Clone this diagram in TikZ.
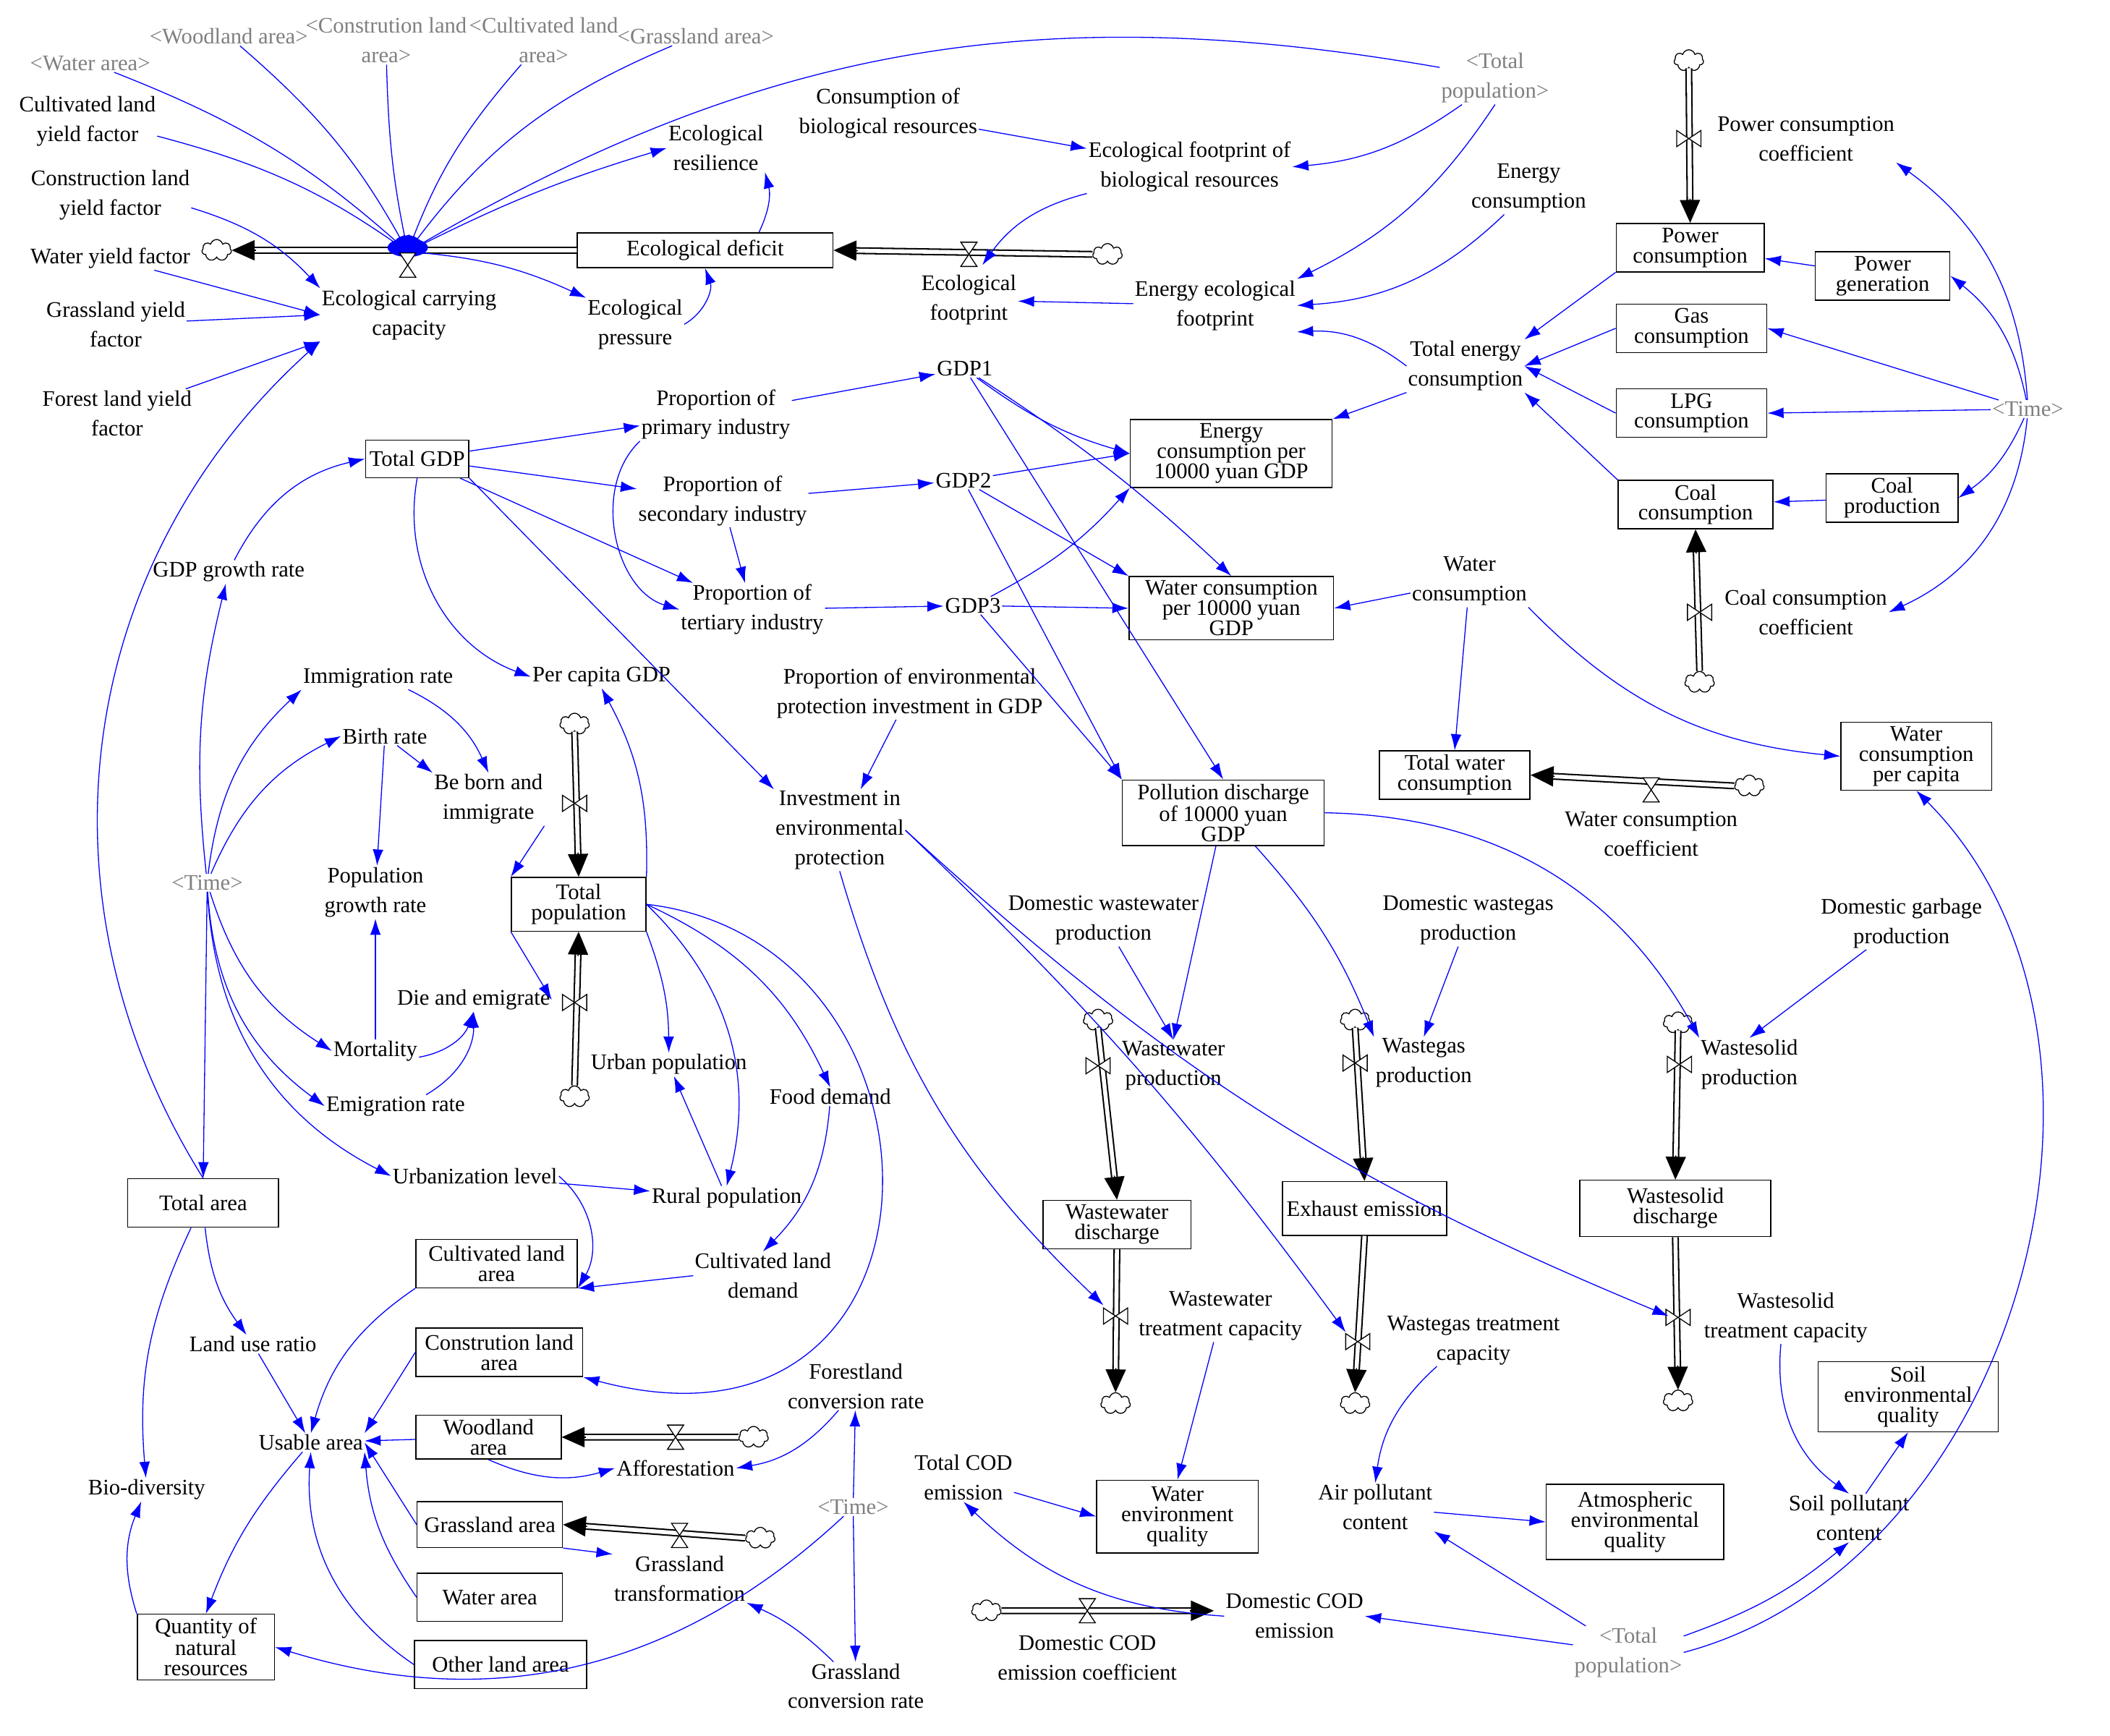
\documentclass[tikz,border=0pt]{standalone}
\usepackage{fontspec}
\setmainfont{Liberation Serif}
\usetikzlibrary{arrows.meta,shapes.symbols,calc}
\tikzset{
 v/.style={align=center, font=\fontsize{16.5}{22}\selectfont, inner sep=1pt},
 b/.style={v, draw, line width=0.8pt, inner sep=3pt, minimum height=36pt, font=\fontsize{16.5}{15}\selectfont},
 g/.style={v, text=black!50},
 ia/.style={blue, -{Latex[length=12pt,width=8pt]}, line width=0.7pt},
 cl/.style={cloud, draw, cloud puffs=7, minimum width=22pt, minimum height=16pt, inner sep=0pt, line width=0.7pt},
 pipe/.style={double=white, double distance=3pt, line width=1.1pt}
}
\newcommand\flow[2]{\draw[pipe] (#1) -- ($(#2)!16pt!(#1)$); \draw[line width=0.8pt,-{Triangle[length=17pt,width=15pt]}] ($(#2)!18pt!(#1)$) -- (#2);}
\newcommand\hv[2]{\draw[fill=white,line width=0.7pt] (#1-6,#2-9)--(#1+6,#2-9)--(#1-6,#2+9)--(#1+6,#2+9)--cycle;}
\newcommand\vv[2]{\draw[fill=white,line width=0.7pt] (#1-9,#2-6)--(#1-9,#2+6)--(#1+9,#2-6)--(#1+9,#2+6)--cycle;}
\begin{document}
\begin{tikzpicture}[x=1pt,y=-1pt]
\useasboundingbox (0,0) rectangle (1568,1290);
% ---- nodes
\node[g] (waterarea) at (67,47) {<Water area>};
\node[g] (woodarea) at (170,27) {<Woodland area>};
\node[g] (constarea) at (287,30) {<Constrution land\\area>};
\node[g] (cultarea) at (404,30) {<Cultivated land\\area>};
\node[g] (grassarea) at (517,27) {<Grassland area>};
\node[v] (cultyf) at (65,90) {Cultivated land\\yield factor};
\node[v] (constyf) at (82,145) {Construction land\\yield factor};
\node[v] (wateryf) at (82,192) {Water yield factor};
\node[v] (grassyf) at (86,241) {Grassland yield\\factor};
\node[v] (forestyf) at (87,307) {Forest land yield\\factor};
\node[v] (ecc) at (304,234) {Ecological carrying\\capacity};
\node[v] (ecres) at (532,110) {Ecological\\resilience};
\node[v] (ecpress) at (472,241) {Ecological\\pressure};
\node[b,minimum width=190pt,minimum height=26pt] (ecdef) at (524,186) {Ecological deficit};
\node[v] (cbr) at (660,84) {Consumption of\\biological resources};
\node[v] (efbr) at (884,124) {Ecological footprint of\\biological resources};
\node[g] (totpop1) at (1111,58) {<Total\\population>};
\node[v] (ecfp) at (720,223) {Ecological\\footprint};
\node[v] (energycons) at (1136,140) {Energy\\consumption};
\node[v] (eef) at (903,227) {Energy ecological\\footprint};
\node[v] (powercc) at (1342,103) {Power consumption\\coefficient};
\node[b,minimum width=110pt] (powercons) at (1256,184) {Power\\consumption};
\node[b,minimum width=100pt] (powergen) at (1399,205) {Power\\generation};
\node[b,minimum width=112pt] (gascons) at (1257,244) {Gas\\consumption};
\node[v] (totenergy) at (1089,272) {Total energy\\consumption};
\node[b,minimum width=112pt] (lpg) at (1257,307) {LPG\\consumption};
\node[g] (time1) at (1507,304) {<Time>};
\node[b,minimum width=115pt] (coalcons) at (1260,375) {Coal\\consumption};
\node[b,minimum width=98pt] (coalprod) at (1406,370) {Coal\\production};
\node[v] (coalcc) at (1342,455) {Coal consumption\\coefficient};
\node[v] (gdp1) at (717,274) {GDP1};
\node[v] (propprim) at (532,308) {Proportion of\\primary industry};
\node[b,minimum height=28pt] (totgdp) at (310,341) {Total GDP};
\node[v] (propsec) at (537,372) {Proportion of\\secondary industry};
\node[v] (gdp2) at (716,357) {GDP2};
\node[b,minimum width=150pt] (ecgdp) at (915,337) {Energy\\consumption per\\10000 yuan GDP};
\node[v] (proptert) at (559,453) {Proportion of\\tertiary industry};
\node[v] (gdp3) at (723,450) {GDP3};
\node[b,minimum width=152pt] (wcgdp) at (915,452) {Water consumption\\per 10000 yuan\\GDP};
\node[v] (watercons) at (1092,432) {Water\\consumption};
\node[v] (gdpgr) at (170,425) {GDP growth rate};
\node[v] (immig) at (281,504) {Immigration rate};
\node[v] (pcgdp) at (447,503) {Per capita GDP};
\node[v] (propenv) at (676,515) {Proportion of environmental\\protection investment in GDP};
\node[v] (birth) at (286,547) {Birth rate};
\node[v] (bornimm) at (363,594) {Be born and\\immigrate};
\node[v] (invenv) at (624,617) {Investment in\\environmental\\protection};
\node[b,minimum width=150pt] (pollgdp) at (909,604) {Pollution discharge\\of 10000 yuan\\GDP};
\node[b,minimum width=112pt] (totwater) at (1081,576) {Total water\\consumption};
\node[v] (wccoef) at (1227,620) {Water consumption\\coefficient};
\node[b,minimum width=112pt] (wcpc) at (1424,562) {Water\\consumption\\per capita};
\node[g] (time2) at (154,656) {<Time>};
\node[v] (popgr) at (279,663) {Population\\growth rate};
\node[b,minimum width=100pt,minimum height=40pt] (totpop) at (430,672) {Total\\population};
\node[v] (dwwp) at (820,684) {Domestic wastewater\\production};
\node[v] (dwgp) at (1091,684) {Domestic wastegas\\production};
\node[v] (dgp) at (1413,686) {Domestic garbage\\production};
\node[v] (dieemig) at (352,743) {Die and emigrate};
\node[v] (mortality) at (279,781) {Mortality};
\node[v] (urbpop) at (497,791) {Urban population};
\node[v] (wwprod) at (872,792) {Wastewater\\production};
\node[v] (wgprod) at (1058,790) {Wastegas\\production};
\node[v] (wsprod) at (1300,791) {Wastesolid\\production};
\node[v] (fooddem) at (617,815) {Food demand};
\node[v] (emigr) at (294,822) {Emigration rate};
\node[v] (urblvl) at (353,874) {Urbanization level};
\node[v] (ruralpop) at (540,890) {Rural population};
\node[b,minimum width=112pt] (totarea) at (151,894) {Total area};
\node[b,minimum width=110pt] (wwdis) at (830,910) {Wastewater\\discharge};
\node[b,minimum width=122pt,minimum height=40pt] (exhaust) at (1014,898) {Exhaust emission};
\node[b,minimum width=142pt,minimum height=42pt] (wsdis) at (1245,898) {Wastesolid\\discharge};
\node[b,minimum width=120pt] (cultlarea) at (369,939) {Cultivated land\\area};
\node[v] (cultdem) at (567,948) {Cultivated land\\demand};
\node[v] (wwtc) at (907,978) {Wastewater\\treatment capacity};
\node[v] (wgtc) at (1095,996) {Wastegas treatment\\capacity};
\node[v] (wstc) at (1327,979) {Wastesolid\\treatment capacity};
\node[v] (landuse) at (188,999) {Land use ratio};
\node[b,minimum width=124pt] (constlarea) at (371,1005) {Constrution land\\area};
\node[v] (forestconv) at (636,1030) {Forestland\\conversion rate};
\node[b,minimum width=134pt,minimum height=52pt] (soileq) at (1418,1038) {Soil\\environmental\\quality};
\node[v] (usable) at (231,1072) {Usable area};
\node[b,minimum width=108pt,minimum height=32pt] (woodland) at (363,1068) {Woodland\\area};
\node[v] (affor) at (502,1091) {Afforestation};
\node[v] (totcod) at (716,1098) {Total COD\\emission};
\node[v] (bio) at (109,1107) {Bio-diversity};
\node[v] (airpoll) at (1022,1120) {Air pollutant\\content};
\node[b,minimum width=120pt,minimum height=54pt] (watereq) at (875,1127) {Water\\environment\\quality};
\node[b,minimum width=132pt,minimum height=56pt] (atmoseq) at (1215,1131) {Atmospheric\\environmental\\quality};
\node[v] (soilpoll) at (1374,1128) {Soil pollutant\\content};
\node[g] (time3) at (634,1120) {<Time>};
\node[b,minimum width=108pt,minimum height=34pt] (grassland) at (364,1133) {Grassland area};
\node[v] (grasstrans) at (505,1173) {Grassland\\transformation};
\node[b,minimum width=108pt] (waterareabox) at (364,1187) {Water area};
\node[v] (domcod) at (962,1201) {Domestic COD\\emission};
\node[v] (domcodcoef) at (808,1232) {Domestic COD\\emission coefficient};
\node[g] (totpop2) at (1210,1228) {<Total\\population>};
\node[b,minimum width=102pt,minimum height=48pt] (qnr) at (153,1224) {Quantity of\\natural\\resources};
\node[b,minimum width=128pt] (otherland) at (372,1237) {Other land area};
\node[v] (grassconv) at (636,1253) {Grassland\\conversion rate};
% ---- clouds
\node[cl] (c1) at (161,186) {}; \node[cl] (c2) at (823,189) {};
\node[cl] (c3) at (1255,45) {}; \node[cl] (c4) at (1263,507) {};
\node[cl] (c5) at (1300,584) {}; \node[cl] (c6) at (427,538) {};
\node[cl] (c7) at (427,815) {}; \node[cl] (c8) at (816,758) {};
\node[cl] (c9) at (829,1043) {}; \node[cl] (c10) at (1007,758) {};
\node[cl] (c11) at (1007,1043) {}; \node[cl] (c12) at (1247,760) {};
\node[cl] (c13) at (1247,1041) {}; \node[cl] (c14) at (560,1068) {};
\node[cl] (c15) at (565,1143) {}; \node[cl] (c16) at (733,1197) {};
% ---- flows
\coordinate (eccv) at (303,187);
\flow{ecdef.west}{c1.east}
\flow{c2.west}{ecdef.east}
\flow{c3.south}{powercons.north}
\flow{c4.north}{coalcons.south}
\flow{c5.west}{totwater.east}
\flow{c6.south}{totpop.north}
\flow{c7.north}{totpop.south}
\flow{c8.south}{wwdis.north}
\flow{wwdis.south}{c9.north}
\flow{c10.south}{exhaust.north}
\flow{exhaust.south}{c11.north}
\flow{c12.south}{wsdis.north}
\flow{wsdis.south}{c13.north}
\flow{c14.west}{woodland.east}
\flow{c15.west}{grassland.east}
\coordinate (dce) at (902,1197);
\flow{c16.east}{dce}
\fill[blue] (303,184) ellipse (15pt and 7pt);
\hv{303}{197} \hv{720}{189} \vv{1255}{103} \vv{1263}{455} \hv{1227}{587}
\vv{427}{597} \vv{427}{745} \vv{816}{792} \vv{829}{978} \vv{1007}{790}
\vv{1009}{997} \vv{1248}{791} \vv{1247}{979} \hv{502}{1068} \hv{505}{1141} \hv{808}{1197}
% ---- information arrows
\draw[ia] (waterarea) to[bend left=10] (eccv);
\draw[ia] (woodarea) to[bend left=10] (eccv);
\draw[ia] (constarea) to[bend right=5] (eccv);
\draw[ia] (cultarea) to[bend right=10] (eccv);
\draw[ia] (grassarea) to[bend right=15] (eccv);
\draw[ia] (cultyf) to[bend left=10] (eccv);
\draw[ia] (constyf) to[bend left=15] (ecc.north west);
\draw[ia] (wateryf) to (ecc.west);
\draw[ia] (grassyf) to (ecc.west);
\draw[ia] (forestyf) to (ecc.south west);
\draw[ia] (totpop1) to[bend right=20] (eccv);
\draw[ia] (eccv) to[bend left=5] (ecres.west);
\draw[ia] (eccv) to[bend left=10] (ecpress.north west);
\draw[ia] (ecpress.east) to[bend right=40] (ecdef.south);
\draw[ia] (ecdef.north) ++(40,0) to[bend right=20] (ecres.south east);
\draw[ia] (cbr) -- (efbr);
\draw[ia] (totpop1) to[bend left=15] (efbr.east);
\draw[ia] (efbr.south west) to[bend right=20] (730,197);
\draw[ia] (eef) -- (ecfp);
\draw[ia] (totpop1.south) to[bend left=15] (eef.north east);
\draw[ia] (energycons) to[bend left=20] (eef.east);
\draw[ia] (totenergy.west) to[bend right=20] (eef.south east);
\draw[ia] (time1) to[bend right=25] (powercc.south east);
\draw[ia] (time1) to[bend right=20] (powergen.east);
\draw[ia] (time1) -- (gascons.east);
\draw[ia] (time1) -- (lpg.east);
\draw[ia] (time1) to[bend left=15] (coalprod.east);
\draw[ia] (time1) to[bend left=30] (coalcc.east);
\draw[ia] (powergen) -- (powercons);
\draw[ia] (powercons.south west) -- (totenergy.north east);
\draw[ia] (gascons.west) -- (totenergy.east);
\draw[ia] (lpg.west) -- (totenergy.east);
\draw[ia] (coalcons.north west) -- (totenergy.south east);
\draw[ia] (coalprod) -- (coalcons);
\draw[ia] (totenergy.south west) -- (ecgdp.north east);
\draw[ia] (propprim) -- (gdp1);
\draw[ia] (propsec) -- (gdp2);
\draw[ia] (proptert) -- (gdp3);
\draw[ia] (totgdp) -- (propprim);
\draw[ia] (totgdp) -- (propsec);
\draw[ia] (totgdp) -- (proptert);
\draw[ia] (propsec) -- (proptert);
\draw[ia] (propprim.south west) to[bend right=60] (proptert.west);
\draw[ia] (gdp1) to[bend right=10] (ecgdp.west);
\draw[ia] (gdp2) -- (ecgdp.west);
\draw[ia] (gdp3) to[bend right=10] (ecgdp.south west);
\draw[ia] (gdp1) to[bend left=5] (wcgdp.north);
\draw[ia] (gdp2) -- (wcgdp.north west);
\draw[ia] (gdp3) -- (wcgdp.west);
\draw[ia] (watercons) -- (wcgdp.east);
\draw[ia] (gdp1) -- (pollgdp.north);
\draw[ia] (gdp2) -- (pollgdp.north west);
\draw[ia] (gdp3) -- (pollgdp.north west);
\draw[ia] (totgdp.south) to[bend right=40] (pcgdp.west);
\draw[ia] (totgdp.south east) -- (invenv.north west);
\draw[ia] (propenv) -- (invenv);
\draw[ia] (totpop.north east) to[bend right=15] (pcgdp.south);
\draw[ia] (gdpgr) to[bend left=25] (totgdp.west);
\draw[ia] (time2) to[bend left=10] (gdpgr);
\draw[ia] (time2) to[bend left=20] (immig.south west);
\draw[ia] (time2) to[bend left=20] (birth.west);
\draw[ia] (time2) to[bend right=20] (mortality.west);
\draw[ia] (time2) to[bend right=25] (emigr.west);
\draw[ia] (time2) to[bend right=30] (urblvl.west);
\draw[ia] (time2) -- (totarea.north);
\draw[ia] (immig) to[bend left=20] (bornimm.north);
\draw[ia] (birth) -- (bornimm.north west);
\draw[ia] (birth) -- (popgr);
\draw[ia] (mortality) -- (popgr);
\draw[ia] (mortality) to[bend right=30] (dieemig.south);
\draw[ia] (emigr) to[bend right=30] (dieemig.south);
\draw[ia] (bornimm.south east) -- (totpop.north west);
\draw[ia] (totpop.south west) -- (dieemig.east);
\draw[ia] (totpop.south east) to[bend left=10] (urbpop.north);
\draw[ia] (totpop.east) to[bend left=30] (ruralpop.north);
\draw[ia] (totpop.east) to[bend left=20] (fooddem.north);
\draw[ia] (totpop.east) .. controls (720,700) and (720,1100) .. (constlarea.south east);
\draw[ia] (ruralpop) -- (urbpop);
\draw[ia] (urblvl) -- (ruralpop);
\draw[ia] (fooddem) to[bend left=20] (cultdem.north);
\draw[ia] (cultdem.west) -- (cultlarea.south east);
\draw[ia] (urblvl.east) to[bend left=40] (cultlarea.south east);
\draw[ia] (totarea) to[bend right=15] (landuse);
\draw[ia] (totarea) to[bend right=15] (bio);
\draw[ia] (totarea.north) to[bend left=40] (ecc.south west);
\draw[ia] (landuse) -- (usable);
\draw[ia] (cultlarea.south west) to[bend right=20] (usable.north);
\draw[ia] (constlarea.west) -- (usable.north east);
\draw[ia] (woodland) -- (usable);
\draw[ia] (grassland.west) -- (usable.east);
\draw[ia] (waterareabox.west) to[bend left=15] (usable.south east);
\draw[ia] (otherland.west) to[bend left=30] (usable.south);
\draw[ia] (usable) to[bend right=10] (qnr.north);
\draw[ia] (qnr.north west) to[bend left=20] (bio);
\draw[ia] (time3) -- (forestconv);
\draw[ia] (time3) -- (grassconv);
\draw[ia] (time3) to[bend left=30] (qnr.east);
\draw[ia] (forestconv) to[bend left=20] (affor.east);
\draw[ia] (grassconv) to[bend right=10] (grasstrans.south east);
\draw[ia] (woodland.south) to[bend right=20] (affor.west);
\draw[ia] (grassland.south east) to (grasstrans.north west);
\draw[ia] (invenv.south) to[bend right=15] (820,970);
\draw[ia] (invenv.east) to[bend left=5] (1000,990);
\draw[ia] (invenv.east) to[bend right=10] (1240,978);
\draw[ia] (wwtc) -- (watereq.north);
\draw[ia] (wgtc) to[bend right=20] (airpoll.north);
\draw[ia] (wstc) to[bend right=30] (soilpoll.north);
\draw[ia] (soilpoll) -- (soileq.south);
\draw[ia] (airpoll) -- (atmoseq.west);
\draw[ia] (totcod) -- (watereq.west);
\draw[ia] (domcod.west) to[bend left=20] (totcod.south);
\draw[ia] (totpop2) -- (domcod.east);
\draw[ia] (totpop2) -- (airpoll.south east);
\draw[ia] (totpop2) to[bend right=10] (soilpoll.south);
\draw[ia] (totpop2.east) to[bend right=60] (wcpc.south);
\draw[ia] (dwwp) -- (wwprod.north);
\draw[ia] (pollgdp) -- (wwprod.north);
\draw[ia] (dwgp) -- (wgprod.north);
\draw[ia] (pollgdp) to[bend left=10] (wgprod.north west);
\draw[ia] (dgp) -- (wsprod.north);
\draw[ia] (pollgdp.east) to[bend left=30] (wsprod.north west);
\draw[ia] (watercons) -- (totwater.north);
\draw[ia] (watercons.south east) to[bend right=20] (wcpc.west);
\end{tikzpicture}
\end{document}
